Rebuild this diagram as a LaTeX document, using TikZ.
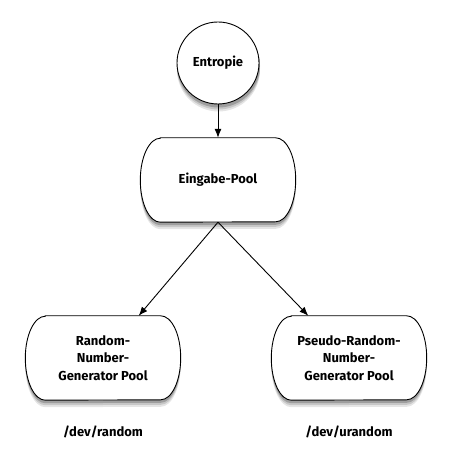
\documentclass[tikz,border=0pt]{standalone}
\usepackage{fontspec}
\setmainfont{Fira Sans}
\usetikzlibrary{arrows.meta,calc,backgrounds}

% outline of a pool: flat top and bottom, half-ellipse ends (#2 = vertical shift)
\newcommand\poolpath[2]{($(#1.north west)+(20,#2)$) -- ($(#1.north east)+(-20,#2)$)
	arc[start angle=90,end angle=-90,x radius=20,y radius=42]
	-- ($(#1.south west)+(20,#2)$)
	arc[start angle=270,end angle=90,x radius=20,y radius=42] -- cycle}
\newcommand\poolshape[1]{%
	\fill[shadowout] \poolpath{#1}{-7};
	\fill[shadowmid] \poolpath{#1}{-5};
	\fill[shadowin] \poolpath{#1}{-3};
	\draw[poolline] \poolpath{#1}{0};}

\begin{document}
\begin{tikzpicture}[x=1pt,y=1pt,>={Latex[length=9pt,width=7pt]},
	poolline/.style={draw,line width=0.9pt,fill=white},
	shadowout/.style={fill=black!10},
	shadowmid/.style={fill=black!22},
	shadowin/.style={fill=black!38},
	pool/.style={rectangle,minimum width=155pt,minimum height=84pt,align=center},
	txt/.style={font=\bfseries\fontsize{13}{17.5}\selectfont}]
\useasboundingbox (0,0) rectangle (450,450);
%sources
\node[circle,poolline,minimum size=82pt,txt] (entropie) at (218,387) {Entropie};
\node[pool,txt] (eingabe) at (218,270) {Eingabe-Pool};
%outputs
\node[pool,txt] (rng) at (103,92) {Random-\\Number-\\Generator Pool};
\node[pool,txt] (prng) at (349,92) {Pseudo-Random-\\Number-\\Generator Pool};
\node[txt] (devrandom) at (103,18) {/dev/random};
\node[txt] (devurandom) at (349,18) {/dev/urandom};
%outlines and shadows
\begin{pgfonlayer}{background}
	\fill[shadowout] ($(entropie.center)+(0.5,-7)$) circle[radius=41.5];
	\fill[shadowmid] ($(entropie.center)+(0.5,-5)$) circle[radius=41.5];
	\fill[shadowin] ($(entropie.center)+(0.5,-3)$) circle[radius=41.5];
	\poolshape{eingabe}
	\poolshape{rng}
	\poolshape{prng}
\end{pgfonlayer}
%arrows
\draw[->,line width=0.9pt] (entropie) -- (eingabe);
\draw[->,line width=0.9pt] (eingabe.south) -- (rng);
\draw[->,line width=0.9pt] (eingabe.south) -- (prng);
\end{tikzpicture}
\end{document}
